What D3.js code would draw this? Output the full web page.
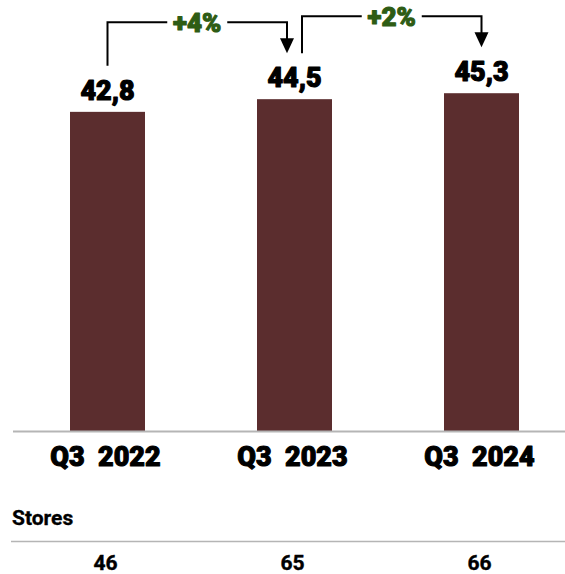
<!DOCTYPE html>
<html>
<head>
<meta charset="utf-8">
<script src="https://cdn.jsdelivr.net/npm/d3@7"></script>
<style>
  body { margin: 0; background: #fff; }
  text { font-family: Roboto, 'Noto Sans', sans-serif; }
  .heavy { font-weight: 900; stroke-width: 1.1px; stroke-linejoin: round; }
</style>
</head>
<body>
<div id="chart"></div>
<script>
const periods = ['Q3  2022', 'Q3  2023', 'Q3  2024']
const values = [42.8, 44.5, 45.3]
const stores = [46, 65, 66]
const changes = [
  { from: 0, to: 1, label: '+4%' },
  { from: 1, to: 2, label: '+2%' }
]

const width = 565
const height = 574
const baseY = 431

const svg = d3
  .select('#chart')
  .append('svg')
  .attr('width', width)
  .attr('height', height)

const x = d3.scalePoint().domain(d3.range(periods.length)).range([14, 575]).padding(0.5)
const y = d3.scaleLinear().domain([0, 57.8]).range([baseY, 0])
const barWidth = 75

const fmt = d3.formatLocale({ decimal: ',', thousands: '.', grouping: [3], currency: ['', ''] }).format('.1f')

// bars
svg
  .selectAll('.bar')
  .data(values)
  .enter()
  .append('rect')
  .attr('class', 'bar')
  .attr('x', (d, i) => x(i) - barWidth / 2)
  .attr('y', d => y(d))
  .attr('width', barWidth)
  .attr('height', d => baseY - y(d))
  .attr('fill', '#5b2d2e')

// baseline
svg
  .append('line')
  .attr('x1', 13)
  .attr('x2', width)
  .attr('y1', baseY + 0.5)
  .attr('y2', baseY + 0.5)
  .attr('stroke', '#b5b5b5')
  .attr('stroke-width', 2)

// value labels
svg
  .selectAll('.value')
  .data(values)
  .enter()
  .append('text')
  .attr('class', 'value heavy')
  .attr('x', (d, i) => x(i))
  .attr('y', d => y(d) - 12)
  .attr('text-anchor', 'middle')
  .attr('stroke', '#000')
  .style('font-size', '27px')
  .text(d => fmt(d))

// category labels
svg
  .selectAll('.cat')
  .data(periods)
  .enter()
  .append('text')
  .attr('class', 'cat heavy')
  .attr('x', (d, i) => x(i) - 2)
  .attr('y', 466)
  .attr('text-anchor', 'middle')
  .attr('stroke', '#000')
  .style('font-size', '27px')
  .style('white-space', 'pre')
  .text(d => d)

// growth brackets
const share = 7.5
const last = values.length - 1
changes.forEach(c => {
  const x1 = x(c.from) + (c.from > 0 ? share : 0)
  const x2 = x(c.to) - (c.to < last ? share : 0)
  const topY = y(values[c.to]) - 77
  const startY = y(values[c.from]) - 46
  const tipY = y(values[c.to]) - 46
  const headH = 15
  const headW = 14
  const g = svg.append('g').attr('class', 'bracket')

  g.append('path')
    .attr('d', `M${x1},${startY}V${topY}H${x2}V${tipY - headH + 1}`)
    .attr('fill', 'none')
    .attr('stroke', '#000')
    .attr('stroke-width', 2)

  g.append('path')
    .attr('d', `M${x2 - headW / 2},${tipY - headH}L${x2 + headW / 2},${tipY - headH}L${x2},${tipY}Z`)
    .attr('fill', '#000')

  const mid = (x1 + x2) / 2
  g.append('rect')
    .attr('x', mid - 30)
    .attr('y', topY - 12)
    .attr('width', 60)
    .attr('height', 24)
    .attr('fill', '#fff')

  g.append('text')
    .attr('class', 'heavy')
    .attr('x', mid)
    .attr('y', topY + 9.5)
    .attr('text-anchor', 'middle')
    .style('font-size', '26px')
    .attr('fill', '#2e5c14')
    .attr('stroke', '#2e5c14')
    .text(c.label)
})

// stores row
svg
  .append('text')
  .attr('x', 12)
  .attr('y', 525)
  .style('font-size', '21px')
  .style('font-weight', 700)
  .attr('stroke', '#000')
  .attr('stroke-width', 0.3)
  .text('Stores')

svg
  .append('line')
  .attr('x1', 11)
  .attr('x2', width)
  .attr('y1', 541.5)
  .attr('y2', 541.5)
  .attr('stroke', '#b5b5b5')
  .attr('stroke-width', 1.5)

svg
  .selectAll('.stores')
  .data(stores)
  .enter()
  .append('text')
  .attr('class', 'stores')
  .attr('x', (d, i) => x(i) - 2)
  .attr('y', 570)
  .attr('text-anchor', 'middle')
  .style('font-size', '21px')
  .style('font-weight', 700)
  .attr('stroke', '#000')
  .attr('stroke-width', 0.4)
  .text(d => d)
</script>
</body>
</html>
